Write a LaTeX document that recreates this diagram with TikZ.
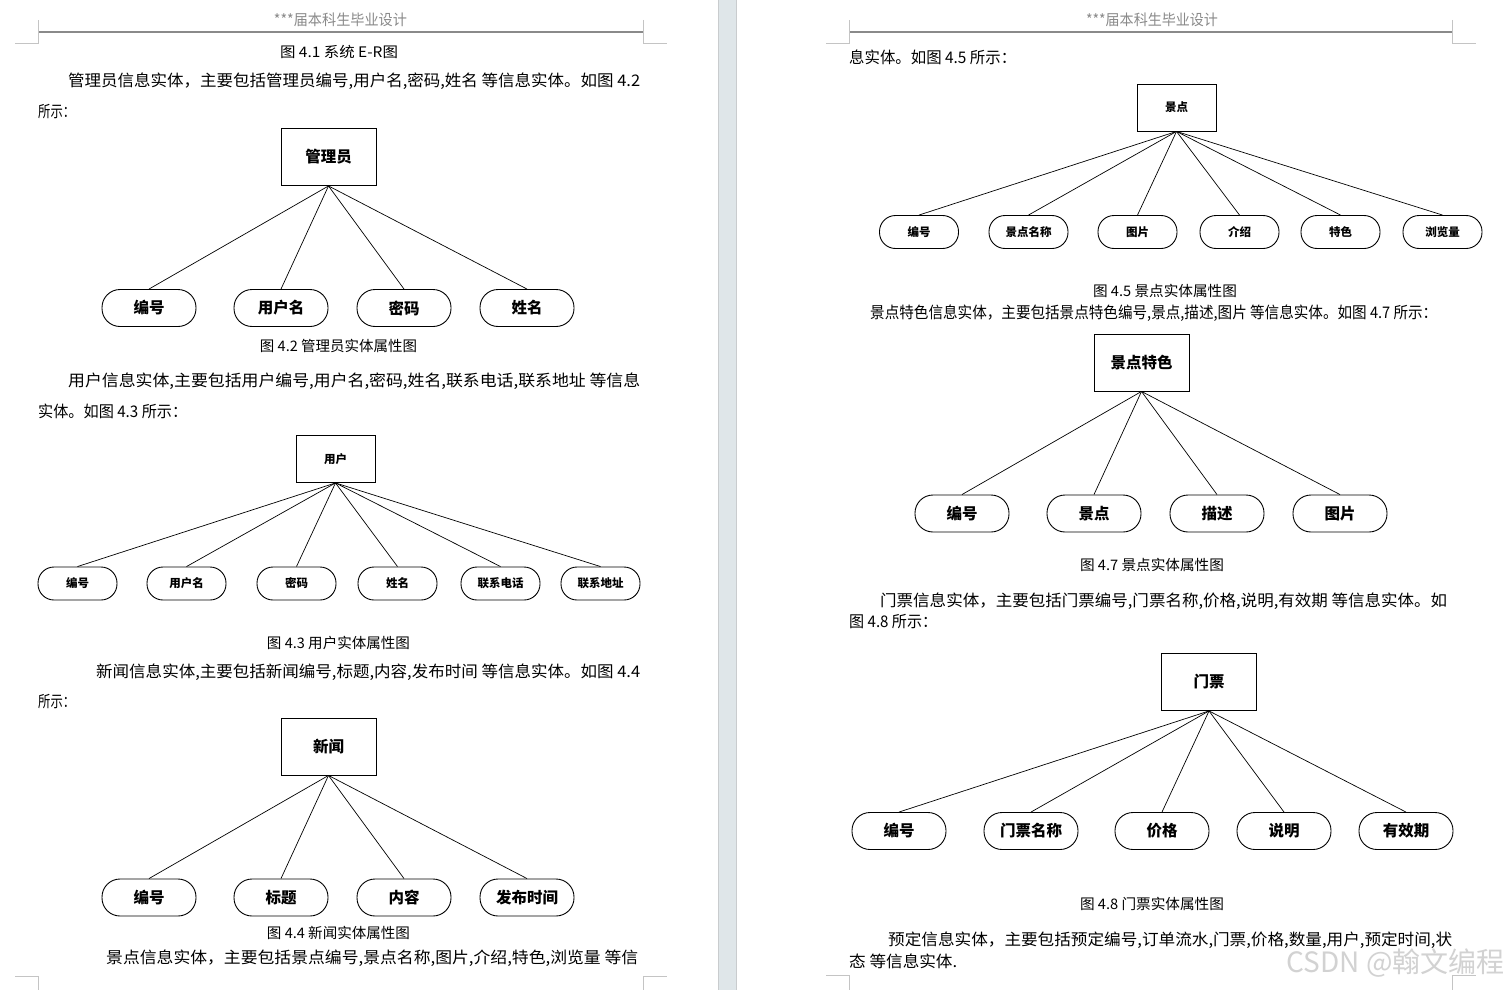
\documentclass[tikz,border=0pt]{standalone}
\usepackage{fontspec}
\setmainfont{Noto Sans CJK SC}
\usepackage{graphicx}
\definecolor{hdrgray}{HTML}{8A8A8A}
\definecolor{markgray}{HTML}{C4C4C4}
\definecolor{gapfill}{HTML}{DFE6E9}
\definecolor{gapedge}{HTML}{C9CCCE}
\definecolor{wmgray}{HTML}{D2D2D2}
\newcommand\fitw[2]{\resizebox{#1pt}{\height}{#2}}
\tikzset{
  entbox/.style={draw, line width=0.9pt, inner sep=0pt, minimum width=95pt, minimum height=57pt, font=\fontsize{15.5}{15.5}\selectfont\bfseries},
  entsmall/.style={entbox, minimum width=79pt, minimum height=47pt, font=\fontsize{11.5}{11.5}\selectfont\bfseries},
  attbox/.style={draw, line width=0.9pt, rounded corners=18pt, inner sep=0pt, minimum width=94pt, minimum height=37pt, font=\fontsize{15.5}{15.5}\selectfont\bfseries},
  attsmall/.style={attbox, rounded corners=16pt, minimum width=79pt, minimum height=33pt, font=\fontsize{11.5}{11.5}\selectfont\bfseries},
  linkline/.style={line width=0.7pt},
  bodytext/.style={inner sep=0pt, anchor=west, font=\fontsize{16}{16}\selectfont},
  captext/.style={inner sep=0pt, font=\fontsize{14.5}{14.5}\selectfont},
  hdrtext/.style={inner sep=0pt, text=hdrgray, font=\fontsize{15}{15}\selectfont},
  hdrline/.style={draw=hdrgray, line width=1.2pt},
  cornermark/.style={draw=markgray, line width=0.8pt}
}
\begin{document}
\begin{tikzpicture}[x=1pt,y=-1pt]
\useasboundingbox[fill=white] (0,0) rectangle (1510,990);
% page gap
\fill[gapfill] (718,0) rectangle (737,990);
\draw[gapedge, line width=1pt] (718.5,0) -- (718.5,990) (736.5,0) -- (736.5,990);

% ---------- page 1 chrome ----------
\node[hdrtext] (h1) at (340.5,20) {\fitw{133}{***届本科生毕业设计}};
\draw[hdrline] (38,32) -- (643,32);
\draw[cornermark] (15,43) -- (38,43) -- (38,20);
\draw[cornermark] (643,20) -- (643,43) -- (667,43);
\draw[cornermark] (15,976) -- (38,976) -- (38,990);
\draw[cornermark] (643,990) -- (643,976) -- (667,976);

% ---------- page 2 chrome ----------
\node[hdrtext] (h2) at (1152,20) {\fitw{132}{***届本科生毕业设计}};
\draw[hdrline] (849,32) -- (1452,32);
\draw[cornermark] (826,43) -- (849,43) -- (849,20);
\draw[cornermark] (1452,20) -- (1452,43) -- (1476,43);
\draw[cornermark] (826,975) -- (849,975) -- (849,990);
\draw[cornermark] (1452,990) -- (1452,975) -- (1476,975);

% ---------- page 1 text ----------
\node[captext] (c41) at (339,52) {\fitw{118}{图 4.1 系统 E-R图}};
\node[bodytext] (t1a) at (68,81) {\fitw{572}{管理员信息实体，主要包括管理员编号,用户名,密码,姓名 等信息实体。如图 4.2}};
\node[bodytext] (t1b) at (38,112) {\fitw{37}{所示：}};
\node[captext] (c42) at (338.5,346) {\fitw{157}{图 4.2 管理员实体属性图}};
\node[bodytext] (t2a) at (68,381) {\fitw{572}{用户信息实体,主要包括用户编号,用户名,密码,姓名,联系电话,联系地址 等信息}};
\node[bodytext] (t2b) at (38,411) {\fitw{149}{实体。如图 4.3 所示：}};
\node[captext] (c43) at (338.5,643) {\fitw{143}{图 4.3 用户实体属性图}};
\node[bodytext] (t3a) at (96,672) {\fitw{544}{新闻信息实体,主要包括新闻编号,标题,内容,发布时间 等信息实体。如图 4.4}};
\node[bodytext] (t3b) at (38,702) {\fitw{37}{所示：}};
\node[captext] (c44) at (338.5,933) {\fitw{143}{图 4.4 新闻实体属性图}};
\node[bodytext] (t4a) at (106,958) {\fitw{532}{景点信息实体，主要包括景点编号,景点名称,图片,介绍,特色,浏览量 等信}};

% ---------- page 2 text ----------
\node[bodytext] (t5a) at (849,57) {\fitw{167}{息实体。如图 4.5 所示：}};
\node[captext] (c45) at (1165,291) {\fitw{144}{图 4.5 景点实体属性图}};
\node[bodytext] (t6a) at (870,313) {\fitw{567}{景点特色信息实体，主要包括景点特色编号,景点,描述,图片 等信息实体。如图 4.7 所示：}};
\node[captext] (c47) at (1152,565) {\fitw{144}{图 4.7 景点实体属性图}};
\node[bodytext] (t7a) at (880,601) {\fitw{567}{门票信息实体，主要包括门票编号,门票名称,价格,说明,有效期 等信息实体。如}};
\node[bodytext] (t7b) at (849,622) {\fitw{88}{图 4.8 所示：}};
\node[captext] (c48) at (1152,904) {\fitw{144}{图 4.8 门票实体属性图}};
\node[bodytext] (t8a) at (888,940) {\fitw{564}{预定信息实体，主要包括预定编号,订单流水,门票,价格,数量,用户,预定时间,状}};
\node[bodytext] (t8b) at (849,961) {\fitw{108}{态 等信息实体.}};
\node[inner sep=0pt, anchor=east, text=wmgray, font=\fontsize{28}{28}\selectfont] (wm) at (1505,963) {CSDN @翰文编程};

% ---------- diagram 4.2 ----------
\node[entbox] (g2) at (328.5,157) {管理员};
\foreach \n/\x/\t in {1/149/编号,2/281/用户名,3/404/密码,4/527/姓名}{
  \node[attbox] (g2-\n) at (\x,308) {\t};
  \draw[linkline] (g2.south) -- (g2-\n.north);
}

% ---------- diagram 4.3 ----------
\node[entsmall] (g3) at (335.5,459) {用户};
\foreach \n/\x/\t in {1/77.5/编号,2/186.5/用户名,3/296.5/密码,4/397.5/姓名,5/500.5/联系电话,6/600.5/联系地址}{
  \node[attsmall] (g3-\n) at (\x,583.5) {\t};
  \draw[linkline] (g3.south) -- (g3-\n.north);
}

% ---------- diagram 4.4 ----------
\node[entbox] (g4) at (328.5,746.5) {新闻};
\foreach \n/\x/\t in {1/149/编号,2/281/标题,3/404/内容,4/527/发布时间}{
  \node[attbox] (g4-\n) at (\x,897.5) {\t};
  \draw[linkline] (g4.south) -- (g4-\n.north);
}

% ---------- diagram 4.5 ----------
\node[entsmall] (g5) at (1176.5,107.5) {景点};
\foreach \n/\x/\t in {1/919/编号,2/1028.5/景点名称,3/1137.5/图片,4/1239.5/介绍,5/1340.5/特色,6/1442.5/浏览量}{
  \node[attsmall] (g5-\n) at (\x,232) {\t};
  \draw[linkline] (g5.south) -- (g5-\n.north);
}

% ---------- diagram 4.7 ----------
\node[entbox] (g7) at (1141.5,362.5) {景点特色};
\foreach \n/\x/\t in {1/962/编号,2/1094/景点,3/1217/描述,4/1340/图片}{
  \node[attbox] (g7-\n) at (\x,513.5) {\t};
  \draw[linkline] (g7.south) -- (g7-\n.north);
}

% ---------- diagram 4.8 ----------
\node[entbox] (g8) at (1209,682) {门票};
\foreach \n/\x/\t in {1/899/编号,2/1031/门票名称,3/1162/价格,4/1284/说明,5/1406/有效期}{
  \node[attbox] (g8-\n) at (\x,831) {\t};
  \draw[linkline] (g8.south) -- (g8-\n.north);
}
\end{tikzpicture}
\end{document}
